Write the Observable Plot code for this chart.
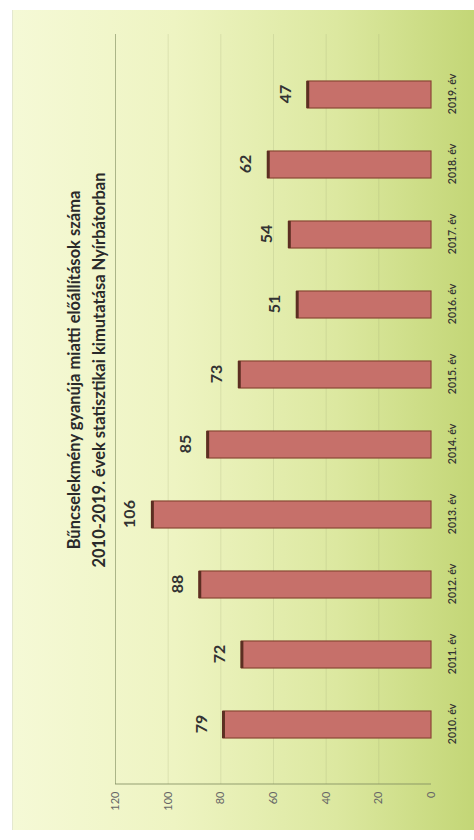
<!DOCTYPE html>
<html>
<head>
<meta charset="utf-8">
<script src="https://cdn.jsdelivr.net/npm/d3@7"></script>
<script src="https://cdn.jsdelivr.net/npm/@observablehq/plot@0.6"></script>
<style>
  html, body { margin: 0; padding: 0; background: #fff; overflow: hidden; width: 474px; height: 840px; }
  #wrap { position: absolute; left: 0; top: 840px; width: 840px; height: 474px; transform-origin: 0 0; transform: rotate(-90deg); font-family: Lato, "Open Sans", sans-serif; }
  #box { position: absolute; left: 10px; top: 12px; width: 820px; height: 462px;
         background: linear-gradient(to bottom, #f5f9d6 0%, #eef4c2 35%, #dce8a0 70%, #c3d676 100%);
         border-top: 1px solid #e4e8d0; }
  #title { position: absolute; left: 0; width: 940px; top: 62px; text-align: center; font-weight: 700; font-size: 16.5px; line-height: 25px; color: #2a2a2a; }
  #chart { position: absolute; left: 0; top: 0; }
</style>
</head>
<body>
<div id="wrap">
  <div id="box"></div>
  <div id="title">Bűncselekmény gyanúja miatti előállítások száma<br>2010-2019. évek statisztikai kimutatása Nyírbátorban</div>
  <div id="chart"></div>
</div>
<script>
const years = ["2010. év", "2011. év", "2012. év", "2013. év", "2014. év", "2015. év", "2016. év", "2017. év", "2018. év", "2019. év"];
const values = [79, 72, 88, 106, 85, 73, 51, 54, 62, 47];
const yTicks = [0, 20, 40, 60, 80, 100, 120];
const gridTicks = [20, 40, 60, 80, 100];

const data = years.map((year, i) => ({year, value: values[i]}));

const chart = Plot.plot({
  width: 840,
  height: 474,
  marginLeft: 56,
  marginRight: 34,
  marginTop: 115,
  marginBottom: 43,
  style: {background: "transparent", fontFamily: "Lato, 'Open Sans', sans-serif"},
  x: {domain: years, padding: 0.61, label: null},
  y: {domain: [0, 120], label: null},
  marks: [
    Plot.gridY(gridTicks, {stroke: "#8f9c6a", strokeOpacity: 0.2}),
    Plot.gridY([120], {stroke: "#7d8a5c", strokeOpacity: 0.6}),
    Plot.axisY(yTicks, {tickSize: 0, tickPadding: 8, fontSize: 11, fill: "#666", label: null}),
    Plot.axisX({tickSize: 0, tickPadding: 17, fontSize: 10.5, fill: "#333", fontWeight: 600, label: null}),
    Plot.barY(data, {x: "year", y: "value", fill: "#c6706a", stroke: "#8a4636", strokeWidth: 1.2}),
    Plot.tickY(data, {x: "year", y: "value", stroke: "#5c2e22", strokeWidth: 3}),
    Plot.text(data, {x: "year", y: "value", text: d => String(d.value), dy: -22, fontSize: 16, fontWeight: 700, fill: "#333"})
  ]
});
document.getElementById("chart").appendChild(chart);

// value-axis line along the left side of the plot area
d3.select(chart).append("line")
  .attr("x1", 56).attr("x2", 56).attr("y1", 115).attr("y2", 431)
  .attr("stroke", "#7d8a5c").attr("stroke-opacity", 0.8);
</script>
</body>
</html>
